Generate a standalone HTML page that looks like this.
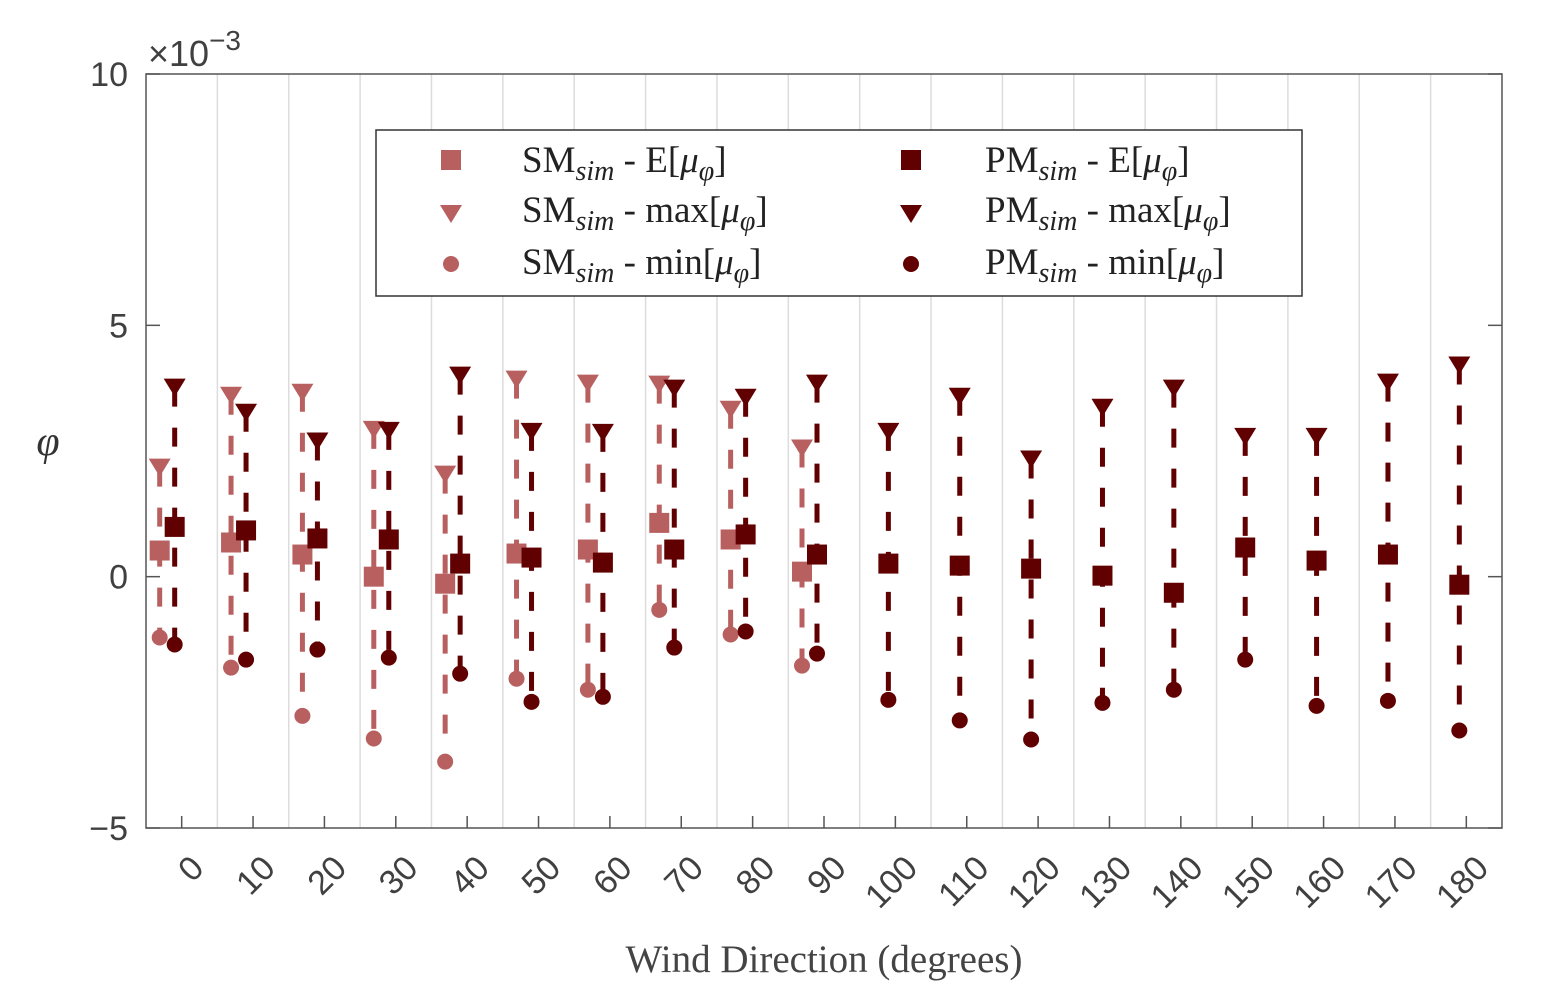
<!DOCTYPE html>
<html><head><meta charset="utf-8"><style>
body{margin:0;background:#fff}
svg{display:block}
.tk{font-family:"Liberation Sans",sans-serif;font-size:34px;fill:#404040}
.lg{font-family:"Liberation Serif",serif;font-size:37px;fill:#222}
</style></head><body>
<svg id="chart" width="1542" height="1004" viewBox="0 0 1542 1004" xmlns="http://www.w3.org/2000/svg">
<g id="grid"></g>
<g id="series"></g>
<g id="axes"></g>
<text x="148" y="66" class="tk" style="font-size:36px">×10<tspan dy="-16" style="font-size:28px">−3</tspan></text>
<text x="48" y="455" style="font-family:'Liberation Serif',serif;font-style:italic;font-size:42px;fill:#333" text-anchor="middle">φ</text>
<text x="824" y="972" style="font-family:'Liberation Serif',serif;font-size:39px;fill:#444" text-anchor="middle">Wind Direction (degrees)</text>
<g>
<rect x="376" y="130" width="926" height="166" fill="#fff" stroke="#333" stroke-width="1.5"/>
<rect x="441" y="150" width="20" height="20" fill="#b86060"/>
<text class="lg" x="522" y="172">SM<tspan dy="8" font-style="italic" font-size="28">sim</tspan><tspan dy="-8"> - E[</tspan><tspan font-style="italic">μ</tspan><tspan dy="8" font-style="italic" font-size="28">φ</tspan><tspan dy="-8">]</tspan></text>
<path d="M440,205 L462,205 L451,223 Z" fill="#b86060"/>
<text class="lg" x="522" y="222">SM<tspan dy="8" font-style="italic" font-size="28">sim</tspan><tspan dy="-8"> - max[</tspan><tspan font-style="italic">μ</tspan><tspan dy="8" font-style="italic" font-size="28">φ</tspan><tspan dy="-8">]</tspan></text>
<circle cx="451" cy="264" r="8" fill="#b86060"/>
<text class="lg" x="522" y="274">SM<tspan dy="8" font-style="italic" font-size="28">sim</tspan><tspan dy="-8"> - min[</tspan><tspan font-style="italic">μ</tspan><tspan dy="8" font-style="italic" font-size="28">φ</tspan><tspan dy="-8">]</tspan></text>
<rect x="901" y="150" width="20" height="20" fill="#600000"/>
<text class="lg" x="985" y="172">PM<tspan dy="8" font-style="italic" font-size="28">sim</tspan><tspan dy="-8"> - E[</tspan><tspan font-style="italic">μ</tspan><tspan dy="8" font-style="italic" font-size="28">φ</tspan><tspan dy="-8">]</tspan></text>
<path d="M900,205 L922,205 L911,223 Z" fill="#600000"/>
<text class="lg" x="985" y="222">PM<tspan dy="8" font-style="italic" font-size="28">sim</tspan><tspan dy="-8"> - max[</tspan><tspan font-style="italic">μ</tspan><tspan dy="8" font-style="italic" font-size="28">φ</tspan><tspan dy="-8">]</tspan></text>
<circle cx="911" cy="264" r="8" fill="#600000"/>
<text class="lg" x="985" y="274">PM<tspan dy="8" font-style="italic" font-size="28">sim</tspan><tspan dy="-8"> - min[</tspan><tspan font-style="italic">μ</tspan><tspan dy="8" font-style="italic" font-size="28">φ</tspan><tspan dy="-8">]</tspan></text>
</g>
</svg>
<script>
const categories=[0,10,20,30,40,50,60,70,80,90,100,110,120,130,140,150,160,170,180];
const yTicks=[10,5,0,-5];
const smMean=[0.52,0.68,0.44,0,-0.14,0.46,0.54,1.07,0.74,0.1];
const smMax=[2.17,3.6,3.66,2.92,2.03,3.92,3.84,3.82,3.32,2.55];
const smMin=[-1.21,-1.81,-2.77,-3.22,-3.68,-2.03,-2.25,-0.66,-1.15,-1.77];
const pmMean=[0.99,0.92,0.76,0.74,0.26,0.38,0.28,0.54,0.84,0.44,0.26,0.22,0.16,0.02,-0.32,0.58,0.32,0.44,-0.16];
const pmMax=[3.76,3.26,2.69,2.9,4.0,2.88,2.86,3.74,3.56,3.84,2.88,3.58,2.33,3.36,3.74,2.78,2.78,3.86,4.2];
const pmMin=[-1.35,-1.65,-1.45,-1.61,-1.93,-2.49,-2.39,-1.41,-1.09,-1.53,-2.45,-2.86,-3.24,-2.51,-2.25,-1.65,-2.57,-2.47,-3.06];

const NS='http://www.w3.org/2000/svg';
const X0=146,X1=1502,Y0=74,Y1=828,YMAX=10,YMIN=-5;
const bw=(X1-X0)/categories.length;
const xc=i=>X0+bw*(i+0.5);
const y=v=>Y0+(YMAX-v)/(YMAX-YMIN)*(Y1-Y0);
function mk(tag,attrs,parent){const e=document.createElementNS(NS,tag);for(const k in attrs)e.setAttribute(k,attrs[k]);parent.appendChild(e);return e;}
const grid=document.getElementById('grid'),ser=document.getElementById('series'),ax=document.getElementById('axes');
for(let i=1;i<categories.length;i++){
 const l=mk('line',{x1:X0+bw*i,x2:X0+bw*i,y1:Y0,y2:Y1,stroke:'#dcdcdc','stroke-width':1.5},grid);
 
 
}
const box=mk('path',{d:`M${X0},${Y0}H${X1}V${Y1}H${X0}Z`,fill:'none',stroke:'#555','stroke-width':1.5},ax);


yTicks.forEach(v=>{
 mk('line',{x1:X0,x2:X0+14,y1:y(v),y2:y(v),stroke:'#555','stroke-width':1.5},ax);
 mk('line',{x1:X1-14,x2:X1,y1:y(v),y2:y(v),stroke:'#555','stroke-width':1.5},ax);
 const t=mk('text',{x:128,y:y(v)+12,'text-anchor':'end',class:'tk'},ax);
 t.textContent=v<0?'−'+(-v):String(v);
 
 
});
categories.forEach((c,i)=>{
 const x=xc(i);
 mk('line',{x1:x,x2:x,y1:Y1,y2:Y1-12,stroke:'#555','stroke-width':1.5},ax);
 const t=mk('text',{x:x+24,y:870,'text-anchor':'end',class:'tk',transform:`rotate(-45 ${x+24} 870)`},ax);
 t.textContent=String(c);
 
 
});
function series(mean,mx,mn,off,col,name){
 mean.forEach((m,i)=>{
  const x=xc(i)+off;
  const g=mk('g',{},ser);
  
  
  mk('line',{x1:x,x2:x,y1:y(mx[i]),y2:y(mn[i]),stroke:col,'stroke-width':5,'stroke-dasharray':'19 21'},g);
  const tY=y(mx[i]);
  const tri=mk('path',{d:`M${x-11},${tY-9}L${x+11},${tY-9}L${x},${tY+9}Z`,fill:col},g);
  
  
  const sq=mk('rect',{x:x-10,y:y(m)-10,width:20,height:20,fill:col},g);
  
  
  const c=mk('circle',{cx:x,cy:y(mn[i]),r:8,fill:col},g);
  
  
 });
}
series(smMean,smMax,smMin,-22,'#b86060','sm');
series(pmMean,pmMax,pmMin,-7,'#600000','pm');
</script>
</body></html>
